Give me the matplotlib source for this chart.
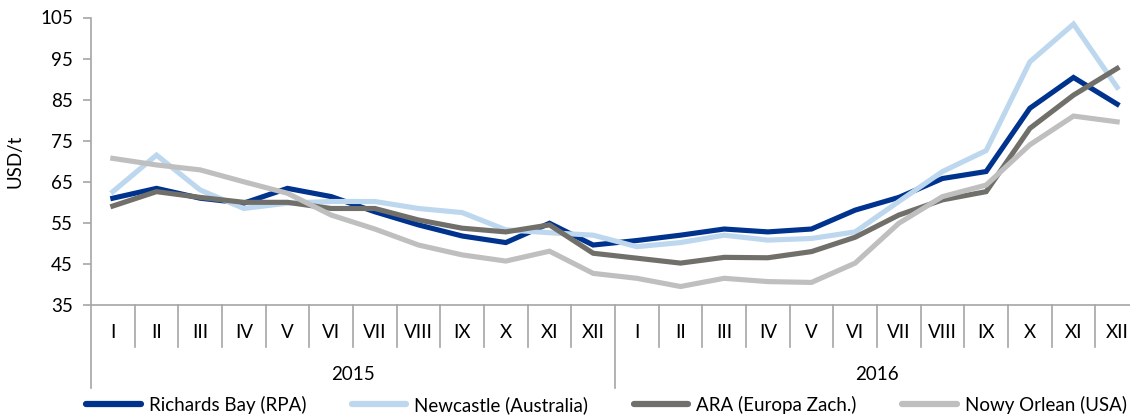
import numpy as np
import matplotlib.pyplot as plt
import matplotlib.transforms as mtransforms

# months and years (multi-level category axis)
months = ["I", "II", "III", "IV", "V", "VI", "VII", "VIII", "IX", "X", "XI", "XII"]
years = ["2015", "2016"]

# coal prices, USD/t
richards_bay = [61.0, 63.4, 61.0, 59.8, 63.4, 61.4, 57.7, 54.5, 51.8, 50.2, 54.9, 49.6,
                50.7, 52.0, 53.5, 52.8, 53.5, 58.1, 61.2, 65.8, 67.5, 82.9, 90.4, 83.9]
newcastle = [62.6, 71.5, 63.0, 58.5, 59.8, 60.2, 60.2, 58.5, 57.5, 53.3, 52.6, 52.0,
             49.2, 50.2, 52.0, 50.8, 51.2, 52.8, 60.2, 67.5, 72.6, 94.2, 103.4, 88.0]
ara = [59.1, 62.6, 61.2, 60.0, 60.0, 58.5, 58.5, 55.7, 53.7, 52.8, 54.5, 47.6,
       46.4, 45.2, 46.6, 46.5, 48.0, 51.5, 56.9, 60.6, 62.6, 78.0, 86.1, 92.6]
nowy_orlean = [70.7, 69.1, 67.9, 65.0, 62.2, 56.9, 53.5, 49.6, 47.2, 45.7, 48.1, 42.7,
               41.5, 39.5, 41.5, 40.7, 40.5, 45.2, 54.9, 61.4, 64.2, 74.0, 81.0, 79.6]

series = [
    ("Richards Bay (RPA)", richards_bay, "#00338D"),
    ("Newcastle (Australia)", newcastle, "#BDD7EE"),
    ("ARA (Europa Zach.)", ara, "#706F6A"),
    ("Nowy Orlean (USA)", nowy_orlean, "#BFBFBF"),
]

FS = 13.5
plt.rcParams['font.family'] = ['Lato', 'DejaVu Sans']
plt.rcParams['font.size'] = FS

W, H = 1130, 416
fig = plt.figure(figsize=(W / 100, H / 100), dpi=100)
ax_l, ax_r, ax_t, ax_b = 91, 1139, 17.5, 305
ax = fig.add_axes([ax_l / W, 1 - ax_b / H, (ax_r - ax_l) / W, (ax_b - ax_t) / H])
ax_h = ax_b - ax_t

n = len(months) * len(years)
x = np.arange(n)
for name, vals, col in series:
    ax.plot(x, vals, color=col, lw=3.7, label=name, solid_joinstyle='miter')

ax.set_xlim(-0.5, n - 0.5)
ax.set_ylim(35, 105)
ax.set_yticks(np.arange(35, 106, 10))
ax.set_xticks([])
ax.set_ylabel("USD/t", fontsize=FS, labelpad=12)

for s in ["top", "right"]:
    ax.spines[s].set_visible(False)
for s in ["left", "bottom"]:
    ax.spines[s].set_color("#A6A6A6")
    ax.spines[s].set_linewidth(1.2)
ax.tick_params(axis='y', direction='out', length=6, width=1.2, color="#A6A6A6",
               labelsize=FS, pad=7)

# category separators and labels
trans = mtransforms.blended_transform_factory(ax.transData, ax.transAxes)
m_len = 41.7 / ax_h
y_len = 83 / ax_h
for k in range(n + 1):
    xs = k - 0.5
    depth = y_len if k % 12 == 0 else m_len
    ax.plot([xs, xs], [0, -depth], transform=trans, color="#A6A6A6", lw=1.2, clip_on=False)
for k in range(n):
    ax.text(k, -28 / ax_h, months[k % 12], transform=trans, ha='center', va='center', fontsize=FS)
for j, yr in enumerate(years):
    ax.text(j * 12 + 5.5, -70 / ax_h, yr, transform=trans, ha='center', va='center', fontsize=FS)

leg = fig.legend(loc='center left', bbox_to_anchor=(86 / W, 1 - 405 / H), ncol=4,
                 frameon=False, fontsize=FS, handlelength=2.93, handletextpad=0.43,
                 columnspacing=2.4, borderpad=0, borderaxespad=0)
for h in leg.get_lines():
    h.set_linewidth(4.5)
    h.set_solid_capstyle('round')

fig.savefig("out.png", dpi=100)
